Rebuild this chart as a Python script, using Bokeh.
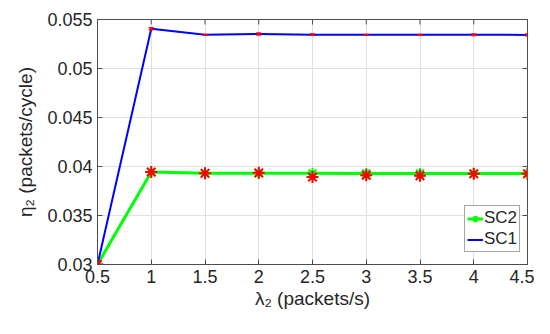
from bokeh.plotting import figure
from bokeh.models import Legend, LegendItem, FixedTicker, Range1d
from bokeh.embed import file_html
from bokeh.resources import INLINE
import math

lam = [0.5, 1, 1.5, 2, 2.5, 3, 3.5, 4, 4.5]
sc1 = [0.0300, 0.05405, 0.05345, 0.05352, 0.05345, 0.05345, 0.05344, 0.05344, 0.05343]
sc1_err = [0.00005, 0.00010, 0.00002, 0.00010, 0.00006, 0.00002, 0.00004, 0.00008, 0.00010]
sc2 = [0.0300, 0.03945, 0.03932, 0.03930, 0.03930, 0.03929, 0.03929, 0.03929, 0.03929]
sc2_sim = [0.0300, 0.03943, 0.03930, 0.03935, 0.03893, 0.03910, 0.03905, 0.03925, 0.03925]
xticks = [0.5, 1, 1.5, 2, 2.5, 3, 3.5, 4, 4.5]
yticks = [0.03, 0.035, 0.04, 0.045, 0.05, 0.055]
xlabels = ["0.5", "1", "1.5", "2", "2.5", "3", "3.5", "4", "4.5"]
ylabels = ["0.03", "0.035", "0.04", "0.045", "0.05", "0.055"]

FONT = "Liberation Sans"
AX = "#4d4d4d"
TXT = "#262626"

p = figure(width=534, height=318, output_backend="svg", toolbar_location=None,
           x_range=Range1d(0.5, 4.5), y_range=Range1d(0.03, 0.055),
           min_border_left=97, min_border_right=7, min_border_top=19, min_border_bottom=54)
p.outline_line_color = AX
p.outline_line_width = 1
p.background_fill_color = "white"
p.grid.grid_line_color = "#e0e0e0"
p.grid.grid_line_width = 1
p.xgrid.ticker = FixedTicker(ticks=xticks)
p.ygrid.ticker = FixedTicker(ticks=yticks)

for ax, ticks in ((p.xaxis[0], xticks), (p.yaxis[0], yticks)):
    ax.ticker = FixedTicker(ticks=ticks)
    ax.axis_line_color = AX
    ax.major_tick_line_color = AX
    ax.major_tick_in = 5
    ax.major_tick_out = 0
    ax.minor_tick_line_color = None
    ax.major_label_text_font = FONT
    ax.major_label_text_font_size = "18px"
    ax.major_label_text_color = TXT
    ax.axis_label_text_font = FONT
    ax.axis_label_text_font_size = "19px"
    ax.axis_label_text_font_style = "normal"
    ax.axis_label_text_color = TXT

p.xaxis[0].major_label_overrides = dict(zip(xticks, xlabels))
p.yaxis[0].major_label_overrides = dict(zip(yticks, ylabels))
p.xaxis[0].axis_label = "λ₂ (packets/s)"
p.yaxis[0].axis_label = "η₂ (packets/cycle)"
p.xaxis[0].major_label_standoff = 5
p.yaxis[0].major_label_standoff = 5
p.yaxis[0].axis_label_standoff = 8
p.xaxis[0].axis_label_standoff = 2

# inward ticks on top and right edges (box style)
p.scatter(xticks, [yticks[-1]] * len(xticks), marker="dash", size=10, angle=math.pi / 2,
          line_color=AX, line_width=1)
p.scatter([xticks[-1]] * len(yticks), yticks, marker="dash", size=10,
          line_color=AX, line_width=1)

# SC2 (green with asterisks)
g_line = p.line(lam, sc2, line_color="#00ff00", line_width=3)
g_mark = p.scatter(lam, sc2, marker="asterisk", size=11, line_color="#00ff00", line_width=2)
# SC1 (blue)
b_line = p.line(lam, sc1, line_color="#0000ff", line_width=2)
# red error bars on SC1
lo = [v - e for v, e in zip(sc1, sc1_err)]
hi = [v + e for v, e in zip(sc1, sc1_err)]
p.segment(lam, lo, lam, hi, line_color="#ff0000", line_width=2)
p.scatter(lam, lo, marker="dash", size=5, line_color="#ff0000", line_width=1.5)
p.scatter(lam, hi, marker="dash", size=5, line_color="#ff0000", line_width=1.5)
# red asterisks on SC2
p.scatter(lam, sc2_sim, marker="asterisk", size=12, line_color="#ff0000", line_width=2)

legend = Legend(items=[LegendItem(label="SC2", renderers=[g_line, g_mark]),
                       LegendItem(label="SC1", renderers=[b_line])],
                location=(367, 12))
legend.label_text_font = FONT
legend.label_text_font_size = "17px"
legend.label_text_color = TXT
legend.border_line_color = AX
legend.border_line_width = 1
legend.background_fill_alpha = 1
legend.margin = 0
legend.padding = 2
legend.spacing = 1
legend.glyph_width = 16
legend.glyph_height = 17
legend.label_standoff = 1
legend.label_height = 17
p.add_layout(legend)

open("out.html", "w").write(file_html(p, INLINE))
